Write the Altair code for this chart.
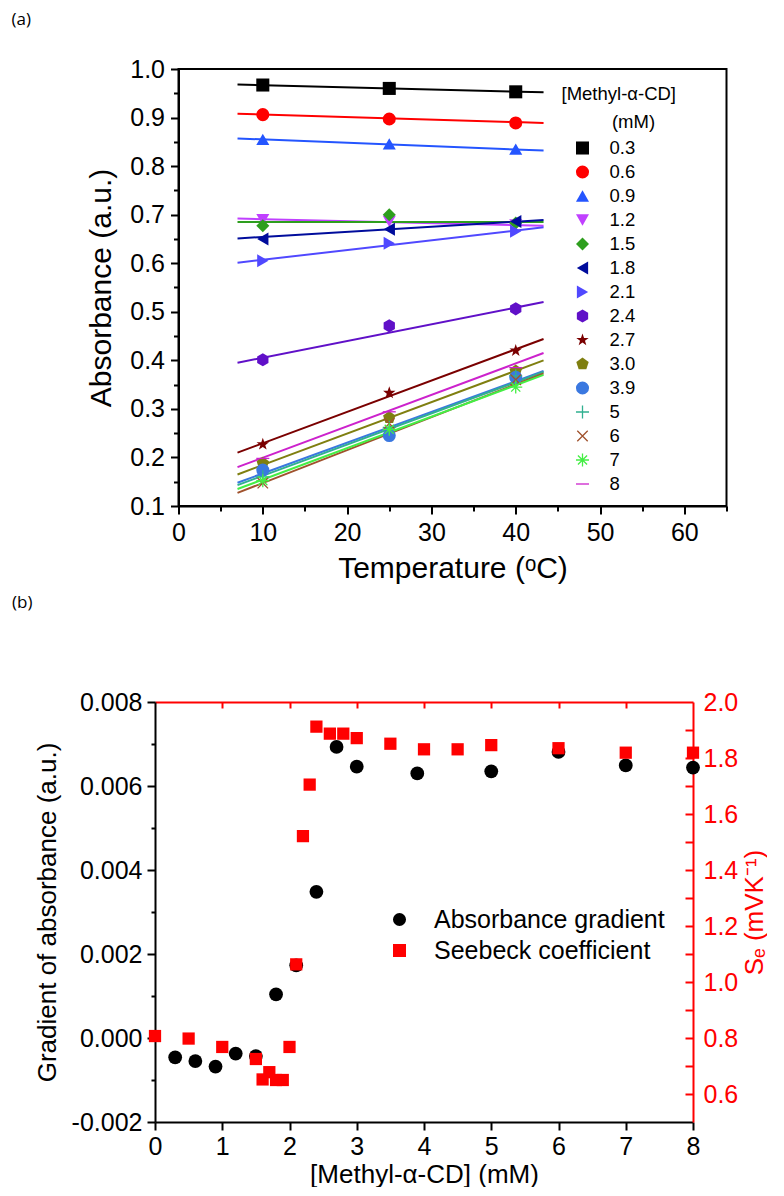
import altair as alt
import pandas as pd

FONT = "Liberation Sans"

# ---------------- Panel (a) data ----------------
concs = ["0.3", "0.6", "0.9", "1.2", "1.5", "1.8", "2.1", "2.4", "2.7", "3.0", "3.9", "5", "6", "7", "8"]
temps = [10, 25, 40]
abs_10 = [0.967, 0.906, 0.855, 0.690, 0.677, 0.650, 0.605, 0.401, 0.227, 0.188, 0.174, 0.160, 0.147, 0.152, 0.198]
abs_25 = [0.960, 0.897, 0.846, 0.686, 0.700, 0.670, 0.641, 0.471, 0.333, 0.282, 0.245, 0.262, 0.270, 0.258, 0.294]
abs_40 = [0.953, 0.889, 0.835, 0.679, 0.683, 0.686, 0.666, 0.506, 0.420, 0.378, 0.365, 0.368, 0.360, 0.345, 0.385]
fit_t = [7.0, 43.3]
fit_start = [0.968, 0.908, 0.857, 0.692, 0.685, 0.651, 0.601, 0.395, 0.210, 0.165, 0.148, 0.143, 0.127, 0.135, 0.180]
fit_end = [0.952, 0.889, 0.832, 0.677, 0.685, 0.689, 0.674, 0.520, 0.444, 0.400, 0.378, 0.376, 0.373, 0.370, 0.415]
colors = ["#000000", "#ff0000", "#2455ff", "#c040ff", "#2e9e1e", "#000c9c", "#5048ff", "#6010c8",
          "#7a0000", "#7f7f10", "#3a78e0", "#30b090", "#a0522d", "#44ee44", "#cc22cc"]
legend_title_lines = ["[Methyl-α-CD]", "(mM)"]
HEX = "M0,-1L0.866,-0.5L0.866,0.5L0,1L-0.866,0.5L-0.866,-0.5Z"
STAR = "M0,-1L0.235,-0.324L0.951,-0.309L0.38,0.124L0.588,0.809L0,0.4L-0.588,0.809L-0.38,0.124L-0.951,-0.309L-0.235,-0.324Z"
PENT = "M0,-1L0.951,-0.309L0.588,0.809L-0.588,0.809L-0.951,-0.309Z"
PLUS = ("M-1,-0.1L-0.1,-0.1L-0.1,-1L0.1,-1L0.1,-0.1L1,-0.1L1,0.1L0.1,0.1L0.1,1L-0.1,1L-0.1,0.1L-1,0.1Z")
XS = ("M-0.729,-0.871L0.871,0.729L0.729,0.871L-0.871,-0.729Z"
      "M-0.871,0.729L0.729,-0.871L0.871,-0.729L-0.729,0.871Z")
AST = (PLUS +
       "M-0.629,-0.771L0.771,0.629L0.629,0.771L-0.771,-0.629Z"
       "M-0.771,0.629L0.629,-0.771L0.771,-0.629L-0.629,0.771Z")
DASH = "M-1,-0.1L1,-0.1L1,0.1L-1,0.1Z"
shapes = ["square", "circle", "triangle-up", "triangle-down", "diamond", "triangle-left", "triangle-right",
          HEX, STAR, PENT, "circle", PLUS, XS, AST, DASH]

# ---------------- Panel (b) data ----------------
grad_conc = [0.3, 0.6, 0.9, 1.2, 1.5, 1.8, 2.1, 2.4, 2.7, 3.0, 3.9, 5, 6, 7, 8]
grad_val = [-0.00046, -0.00055, -0.00068, -0.00037, -0.00043, 0.00104, 0.00173, 0.00348, 0.00693,
            0.00646, 0.0063, 0.00635, 0.00681, 0.00649, 0.00644]
see_conc = [0, 0.5, 1.0, 1.5, 1.6, 1.7, 1.8, 1.9, 2.0, 2.1, 2.2, 2.3, 2.4, 2.6, 2.8, 3.0, 3.5, 4.0,
            4.5, 5.0, 6.0, 7.0, 8.0]
see_val = [0.807, 0.798, 0.768, 0.725, 0.652, 0.678, 0.650, 0.650, 0.768, 1.063, 1.521, 1.705, 1.912,
           1.887, 1.887, 1.871, 1.851, 1.831, 1.831, 1.846, 1.835, 1.819, 1.819]
series_dom = ["Absorbance gradient", "Seebeck coefficient"]
series_col = ["#000000", "#ff0000"]
series_shape = ["circle", "square"]

# ---------------- tables ----------------
pts_rows = []
for i, c in enumerate(concs):
    for t, arr in zip(temps, [abs_10, abs_25, abs_40]):
        pts_rows.append({"conc": c, "T": t, "A": arr[i]})
pts_df = pd.DataFrame(pts_rows)
line_rows = []
for i, c in enumerate(concs):
    line_rows.append({"conc": c, "T": fit_t[0], "A": fit_start[i]})
    line_rows.append({"conc": c, "T": fit_t[1], "A": fit_end[i]})
lines_df = pd.DataFrame(line_rows)
leg_df = pd.DataFrame({"conc": concs})
grad_df = pd.DataFrame({"conc": grad_conc, "val": grad_val, "series": series_dom[0]})
see_df = pd.DataFrame({"conc": see_conc, "val": see_val, "series": series_dom[1]})

# ---------------- Panel (a) ----------------
ax_vals = list(range(0, 70, 5))
ay_vals = [round(0.1 + 0.05 * k, 2) for k in range(19)]
axis_ax = alt.Axis(
    values=ax_vals, title="Temperature (ᵒC)", grid=False,
    tickSize={"condition": {"test": "datum.value % 10 == 0", "value": 8}, "value": 5},
    labelExpr="datum.value % 10 == 0 && datum.value <= 60 ? datum.value : ''",
    labelOverlap=False, labelFlush=False, labelFontSize=25, labelPadding=6,
    titleFontSize=30, titleBaseline="middle", titleY=62,
    domainColor="black", tickColor="black", labelColor="black",
)
ay_test = "abs(datum.value*10 - round(datum.value*10)) < 0.001"
axis_ay = alt.Axis(
    orient="left", values=ay_vals, title="Absorbance (a.u.)", grid=False,
    tickSize={"condition": {"test": ay_test, "value": 8}, "value": 5},
    labelExpr=ay_test + " ? format(datum.value, '.1f') : ''",
    labelOverlap=False, labelFlush=False, labelFontSize=25, labelPadding=6,
    titleFontSize=30, titleBaseline="middle", titleX=-77,
    domainColor="black", tickColor="black", labelColor="black",
)
# invisible right-side spacer axis (only balances the panel bounds)
axis_ay_r = alt.Axis(
    orient="right", domain=False, ticks=False, labels=False, grid=False,
    title="I", titleOpacity=0, titleAngle=0, titleFontSize=12, titleAlign="right",
    titleBaseline="middle", titleX=16, titleY=200,
)
xA_scale = alt.Scale(domain=[0, 65], nice=False, zero=False)
yA_scale = alt.Scale(domain=[0.1, 1.0], nice=False, zero=False)
fillA = alt.Fill("conc:N", scale=alt.Scale(domain=concs, range=colors), legend=None)
shapeA = alt.Shape("conc:N", scale=alt.Scale(domain=concs, range=shapes), legend=None)

linesA = alt.Chart(lines_df).mark_line(strokeWidth=2).encode(
    x=alt.X("T:Q", scale=xA_scale, axis=axis_ax),
    y=alt.Y("A:Q", scale=yA_scale, axis=axis_ay),
    color=alt.Color("conc:N", scale=alt.Scale(domain=concs, range=colors), legend=None),
    detail="conc:N",
)
pointsA = alt.Chart(pts_df).mark_point(filled=True, size=170, strokeWidth=0, opacity=1).encode(
    x=alt.X("T:Q", scale=xA_scale, axis=axis_ax),
    y=alt.Y("A:Q", scale=yA_scale, axis=axis_ay_r),
    fill=fillA, shape=shapeA,
)
# legend of panel (a): entries placed by a point scale over the categories
leg_y = alt.Y("conc:N", scale=alt.Scale(type="point", domain=concs, range=[79, 415], padding=0), axis=None)
leg_pts = alt.Chart(leg_df).mark_point(filled=True, size=170, strokeWidth=0, opacity=1).encode(
    x=alt.value(404), y=leg_y, fill=fillA, shape=shapeA,
)
leg_txt = alt.Chart(leg_df).mark_text(
    align="left", baseline="middle", fontSize=18.5, font=FONT, color="black"
).encode(x=alt.value(431), y=leg_y, text="conc:N")
leg_title1 = alt.Chart(pd.DataFrame({"t": [legend_title_lines[0]]})).mark_text(
    align="left", baseline="middle", fontSize=18.5, font=FONT, color="black"
).encode(x=alt.value(383), y=alt.value(25), text="t:N")
leg_title2 = alt.Chart(pd.DataFrame({"t": [legend_title_lines[1]]})).mark_text(
    align="center", baseline="middle", fontSize=18.5, font=FONT, color="black"
).encode(x=alt.value(455), y=alt.value(53), text="t:N")

panelA = alt.layer(linesA, pointsA, leg_pts, leg_txt, leg_title1, leg_title2).resolve_scale(
    y="independent"
).resolve_axis(y="independent").properties(
    width=548, height=437,
    title=alt.Title("(a)", anchor="start", frame="group", dx=-167, offset=28,
                    fontSize=17, font="Open Sans", fontWeight="normal", color="black"),
    view=alt.ViewBackground(stroke="black", strokeWidth=2),
)

# ---------------- Panel (b) ----------------
xB_scale = alt.Scale(domain=[0, 8], nice=False, zero=False)
yL_scale = alt.Scale(domain=[-0.002, 0.008], nice=False, zero=False)
yR_scale = alt.Scale(domain=[0.5, 2.0], nice=False, zero=False)

bl_test = "abs(datum.value*500 - round(datum.value*500)) < 0.001"
left_axis = alt.Axis(
    orient="left", values=[round(-0.002 + 0.001 * k, 3) for k in range(11)],
    title="Gradient of absorbance (a.u.)", grid=False,
    tickSize={"condition": {"test": bl_test, "value": 8}, "value": 4},
    labelExpr=bl_test + " ? replace(format(datum.value, '.3f'), '\u2212', '-') : ''",
    labelOverlap=False, labelFlush=False, labelFontSize=25, labelPadding=5,
    titleFontSize=26, titleBaseline="middle", titleX=-108,
    domainColor="black", tickColor="black", labelColor="black",
)
bottom_axis = alt.Axis(
    orient="bottom", values=list(range(0, 9)), title="[Methyl-α-CD] (mM)", grid=False,
    tickSize=8, format="d", labelOverlap=False, labelFlush=False, labelFontSize=25, labelPadding=4,
    titleFontSize=26, titleBaseline="middle", titleY=52,
    domainColor="black", tickColor="black", labelColor="black",
)
top_axis = alt.Axis(orient="top", ticks=False, labels=False, title=None, grid=False,
                    domainColor="#ff0000")
top_ticks = alt.Axis(orient="top", offset=-6, values=list(range(1, 8)), tickSize=6, tickColor="#ff0000",
                     domain=False, labels=False, title=None, grid=False)
br_test = "abs(datum.value*5 - round(datum.value*5)) < 0.001"
right_axis = alt.Axis(
    orient="right", values=[round(0.5 + 0.1 * k, 1) for k in range(16)],
    title="Sₑ (mVK⁻¹)", grid=False, ticks=False,
    labelExpr=br_test + " ? format(datum.value, '.1f') : ''",
    labelOverlap=False, labelFlush=False, labelFontSize=25, labelPadding=10,
    titleFontSize=26, titleBaseline="middle", titleX=61, titleAngle=270,
    domainColor="#ff0000", labelColor="#ff0000", titleColor="#ff0000",
)
right_ticks = alt.Axis(orient="right", offset=-8, values=[round(0.6 + 0.1 * k, 1) for k in range(14)],
                       tickSize=8, tickColor="#ff0000", domain=False, labels=False, title=None, grid=False)

legB = alt.Legend(
    title=None, orient="none", legendX=232, legendY=205, padding=0,
    labelFont=FONT, labelFontSize=25, labelOffset=22, rowPadding=5, labelLimit=0,
    symbolSize=170, symbolStrokeWidth=0, labelColor="black",
)
fillB = alt.Fill("series:N", scale=alt.Scale(domain=series_dom, range=series_col), legend=legB)
shapeB = alt.Shape("series:N", scale=alt.Scale(domain=series_dom, range=series_shape), legend=legB)

circles = alt.Chart(grad_df).mark_point(filled=True, size=190, opacity=1, strokeWidth=0).encode(
    x=alt.X("conc:Q", scale=xB_scale, axis=bottom_axis),
    y=alt.Y("val:Q", scale=yL_scale, axis=left_axis),
    fill=fillB, shape=shapeB,
)
squares = alt.Chart(see_df).mark_point(filled=True, size=150, opacity=1, strokeWidth=0).encode(
    x=alt.X("conc:Q", scale=xB_scale, axis=top_axis),
    y=alt.Y("val:Q", scale=yR_scale, axis=right_axis),
    fill=fillB, shape=shapeB,
)
tickslayer = alt.Chart(see_df).mark_point(opacity=0).encode(
    x=alt.X("conc:Q", scale=xB_scale, axis=top_ticks),
    y=alt.Y("val:Q", scale=yR_scale, axis=right_ticks),
)
panelB = alt.layer(circles, squares, tickslayer).resolve_scale(y="independent").resolve_axis(
    x="independent", y="independent"
).properties(
    width=538, height=420,
    title=alt.Title("(b)", anchor="start", frame="group", dx=-143, offset=78,
                    fontSize=17, font="Open Sans", fontWeight="normal", color="black"),
    view=alt.ViewBackground(strokeWidth=0, stroke=None),
)

chart = alt.vconcat(panelA, panelB, spacing=10, center=True).resolve_scale(
    fill="independent", shape="independent", color="independent"
).resolve_legend(
    fill="independent", shape="independent", color="independent"
).properties(padding={"left": 2, "top": 2, "right": 0, "bottom": 0}).configure(
    font=FONT
).configure_axis(
    labelFont=FONT, titleFont=FONT, titleFontWeight="normal", domainWidth=2, tickWidth=2,
    grid=False,
)

chart.save("out.html", embed_options={"renderer": "svg", "actions": False})
